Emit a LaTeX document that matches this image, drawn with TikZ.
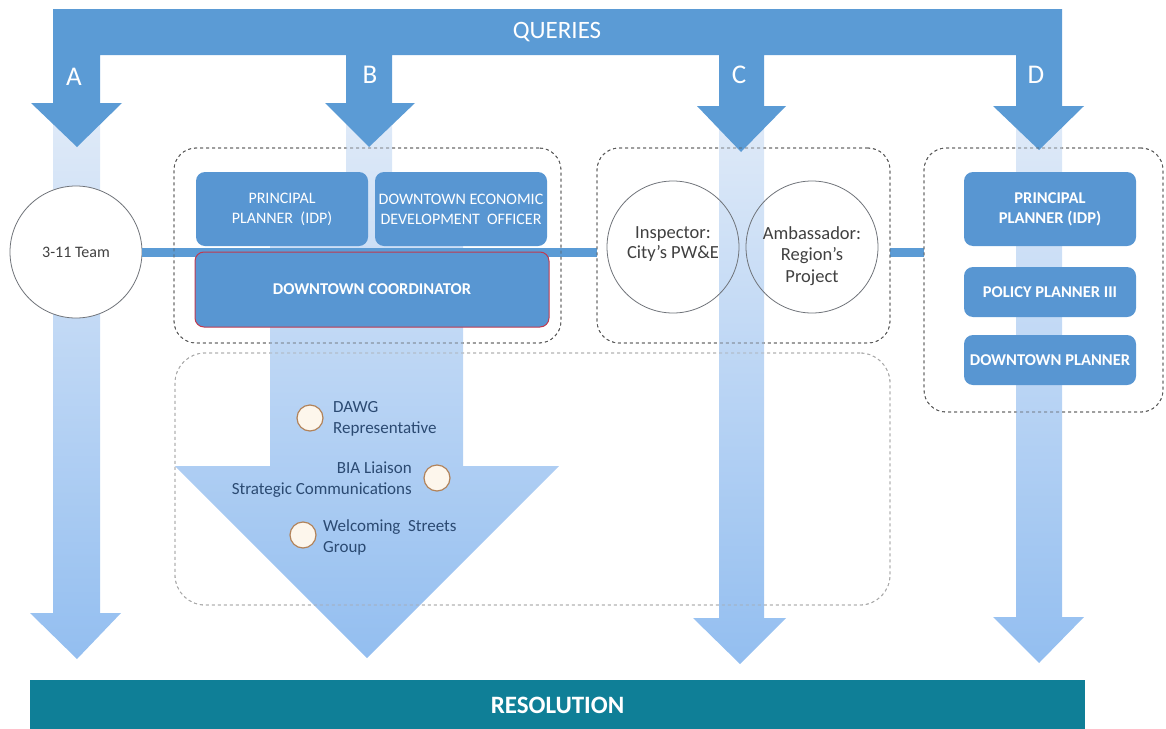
\documentclass[tikz,border=0pt]{standalone}
\usepackage{fontspec}
\setmainfont{Carlito}
\definecolor{qblue}{HTML}{5B9BD5}
\definecolor{boxblue}{HTML}{5896D2}
\definecolor{lighttop}{HTML}{E1EBF8}
\definecolor{lightbot}{HTML}{93BEF0}
\definecolor{resteal}{HTML}{0F7F97}
\definecolor{coordred}{HTML}{C0394F}
\definecolor{circedge}{HTML}{B2835A}
\definecolor{circfill}{HTML}{FDF6EC}
\definecolor{labtext}{HTML}{2B4A72}
\definecolor{ringgray}{HTML}{6F7379}
\definecolor{dashgray}{HTML}{5A5A5A}
\definecolor{softgray}{HTML}{A8A8A8}
\begin{document}
\begin{tikzpicture}[x=1pt,y=-1pt,
  lightarrow/.style={top color=lighttop, bottom color=lightbot, draw=none},
  conn/.style={draw=qblue, line width=9pt},
  group/.style={draw=dashgray, dashed, line width=0.8pt, rounded corners=22pt, inner sep=0pt},
  softgroup/.style={draw=softgray, dashed, line width=0.8pt, rounded corners=30pt, inner sep=0pt},
  rolebox/.style={fill=boxblue, rounded corners=9pt, text=white, align=center, inner sep=0pt,
    font=\fontsize{16}{20}\selectfont},
  rolebold/.style={rolebox, font=\fontsize{16.5}{20}\selectfont\bfseries},
  bigring/.style={circle, draw=ringgray, line width=0.8pt, minimum size=132pt, inner sep=0pt,
    align=center, text=black!75},
  ringtext/.style={align=center, text=black!75, inner sep=0pt},
  smallring/.style={circle, draw=circedge, fill=circfill, line width=1.2pt, minimum size=26pt, inner sep=0pt},
  lab/.style={text=labtext, inner sep=0pt, font=\fontsize{17}{21}\selectfont},
  letter/.style={text=white, font=\fontsize{27}{27}\selectfont}
]
\useasboundingbox (0,0) rectangle (1166,728);

% group frames (positions used by the connectors)
\path node[group, minimum width=387pt, minimum height=195pt] (gb) at (367.5,245.5) {}
      node[group, minimum width=293pt, minimum height=195pt] (gc) at (743.5,245.5) {}
      node[group, minimum width=239pt, minimum height=264pt] (gd) at (1043.5,280) {}
      node[softgroup, minimum width=715pt, minimum height=252pt] (low) at (532.5,479) {};

% pale flows down to the resolution
\shade[lightarrow] (53,103) -- (100,103) -- (100,613) -- (121,613) -- (77,659) -- (30,613) -- (53,613) -- cycle;
\shade[lightarrow] (346,103) -- (392,103) -- (392,245) -- (463,245) -- (463,466) -- (559,466)
  -- (367,658) -- (175,466) -- (270,466) -- (270,245) -- (346,245) -- cycle;
\shade[lightarrow] (719,105) -- (764,105) -- (764,618) -- (786,618) -- (740,664) -- (693,618) -- (719,618) -- cycle;
\shade[lightarrow] (1016,105) -- (1062,105) -- (1062,617) -- (1084,617) -- (1039,663) -- (993,617) -- (1016,617) -- cycle;

% 3-11 team circle
\node[bigring, fill=white, font=\fontsize{16}{19}\selectfont] (team) at (76,252) {3-11 Team};

% horizontal links
\draw[conn] (team.east) -- (team.east -| gc.west);
\draw[conn] (gc.east |- team.east) -- (gd.west |- team.east);

% queries bar with its four arrows
\fill[qblue] (53,9) -- (1062,9) -- (1062,106) -- (1084,106) -- (1039,150) -- (993,106) -- (1016,106)
  -- (1016,55) -- (764,55) -- (764,106) -- (786,106) -- (741,152) -- (697,106) -- (719,106)
  -- (719,55) -- (392,55) -- (392,103) -- (415,103) -- (369,147) -- (325,103) -- (346,103)
  -- (346,55) -- (100,55) -- (100,103) -- (122,103) -- (77,147) -- (31,103) -- (53,103) -- cycle;
\node[text=white, font=\fontsize{25}{25}\selectfont] (queries) at (557,32) {QUERIES};
\node[letter] (la) at (74,77) {A};
\node[letter] (lb) at (370,75) {B};
\node[letter] (lc) at (739,75) {C};
\node[letter] (ld) at (1036,75) {D};

% redraw frames above the fills
\node[group, minimum width=387pt, minimum height=195pt] at (gb) {};
\node[group, minimum width=293pt, minimum height=195pt] at (gc) {};
\node[group, minimum width=239pt, minimum height=264pt] at (gd) {};
\node[softgroup, minimum width=715pt, minimum height=252pt] at (low) {};

% group B roles
\node[rolebox, minimum width=172pt, minimum height=74pt] (pp1) at (282,209) {PRINCIPAL\\PLANNER\ \ (IDP)};
\node[rolebox, minimum width=172pt, minimum height=74pt] (deo) at (461,209) {DOWNTOWN ECONOMIC\\DEVELOPMENT\ \ OFFICER};
\node[rolebold, draw=coordred, line width=1pt, minimum width=354pt, minimum height=75pt] (coord) at (372,289.5) {DOWNTOWN COORDINATOR};

% group C roles
\node[bigring] (insp) at (673,247) {};
\node[ringtext, font=\fontsize{18.5}{20}\selectfont] (inspt) at ([yshift=3pt]insp.center) {Inspector:\\City’s PW\&E};
\node[bigring] (amb) at (812,247) {};
\node[ringtext, font=\fontsize{18.5}{21.5}\selectfont] (ambt) at ([yshift=-9pt]amb.center) {Ambassador:\\Region’s\\Project};

% group D roles
\node[rolebold, minimum width=172pt, minimum height=74pt] (pp2) at (1050,209) {PRINCIPAL\\PLANNER (IDP)};
\node[rolebold, minimum width=172pt, minimum height=50pt] (pol) at (1050,292) {POLICY PLANNER III};
\node[rolebold, minimum width=172pt, minimum height=50pt] (dtp) at (1050,360) {DOWNTOWN PLANNER};

% working groups
\node[smallring] (dawg) at (310,418) {};
\node[lab, anchor=west, align=left] (dawgt) at (333,419) {DAWG\\Representative};
\node[smallring] (bia) at (437,478) {};
\node[lab, anchor=east, align=right] (biat) at (412,480) {BIA Liaison\\Strategic Communications};
\node[smallring] (wsg) at (303,535) {};
\node[lab, anchor=west, align=left] (wsgt) at (323,537) {Welcoming\ \ Streets\\Group};

% resolution bar
\node[fill=resteal, minimum width=1055pt, minimum height=50pt, inner sep=0pt, text=white,
  font=\fontsize{25}{25}\selectfont\bfseries] (res) at (557.5,705) {RESOLUTION};
\end{tikzpicture}
\end{document}
